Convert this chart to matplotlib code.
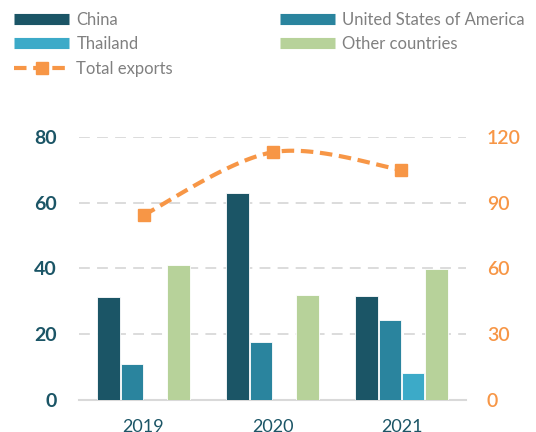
import numpy as np
import matplotlib
matplotlib.use('Agg')
import matplotlib.pyplot as plt
from matplotlib.lines import Line2D

plt.rcParams['font.family'] = ['Lato', 'DejaVu Sans']

years = ['2019', '2020', '2021']
china = [31.2, 62.9, 31.6]
usa = [10.8, 17.5, 24.3]
thailand = [0, 0, 8.3]
others = [41.1, 31.9, 39.7]
total_exports = [84.3, 112.9, 104.9]

series_names = ['China', 'United States of America', 'Thailand', 'Other countries']
series_colors = ['#1b5566', '#2a849e', '#3caac8', '#b7d29a']
orange = '#f79646'
teal_text = '#1b5566'
grey_text = '#808080'
grid_grey = '#d9d9d9'


def smooth_curve(xs, ys, steps=40):
    # bezier smoothing between points, like office "smoothed line"
    pts = np.column_stack([xs, ys]).astype(float)
    out = []
    n = len(pts)
    for i in range(n - 1):
        p0 = pts[i - 1] if i > 0 else pts[i]
        p1 = pts[i]
        p2 = pts[i + 1]
        p3 = pts[i + 2] if i + 2 < n else pts[i + 1]
        c1 = p1 + (p2 - p0) / 6
        c2 = p2 - (p3 - p1) / 6
        t = np.linspace(0, 1, steps)[:, None]
        seg = ((1 - t) ** 3) * p1 + 3 * ((1 - t) ** 2) * t * c1 + 3 * (1 - t) * t ** 2 * c2 + t ** 3 * p2
        out.append(seg if i == 0 else seg[1:])
    out = np.vstack(out)
    return out[:, 0], out[:, 1]


fig = plt.figure(figsize=(5.36, 4.32), dpi=100)
ax = fig.add_axes([79 / 536, 1 - 400 / 432, 387 / 536, (400 - 136.7) / 432])
ax2 = ax.twinx()

x = np.arange(len(years))
pitch = 0.181
width = 0.172
bars = []
for k, (vals, color) in enumerate(zip([china, usa, thailand, others], series_colors)):
    offs = (k - 1.5) * pitch
    b = ax.bar(x + offs, vals, width, color=color, edgecolor='white', linewidth=0.6, zorder=3)
    bars.append(b)

ax.set_xlim(-0.5, 2.5)
ax.set_ylim(0, 80)
ax.set_yticks([0, 20, 40, 60, 80])
ax.set_xticks(x)
ax.set_xticklabels(years)
ax.yaxis.grid(True, color=grid_grey, linestyle=(0, (6, 4)), linewidth=1.3, zorder=0)
ax.set_axisbelow(True)
for s in ['top', 'right', 'left']:
    ax.spines[s].set_visible(False)
ax.spines['bottom'].set_color(grid_grey)
ax.spines['bottom'].set_linewidth(1.5)
ax.tick_params(axis='y', length=0, pad=16, labelsize=14, labelcolor=teal_text)
ax.tick_params(axis='x', length=0, pad=13.5, labelsize=13, labelcolor=teal_text)
for lbl in ax.get_yticklabels():
    lbl.set_fontweight('bold')

ax2.set_ylim(0, 120)
ax2.set_yticks([0, 30, 60, 90, 120])
for s in ax2.spines.values():
    s.set_visible(False)
ax2.tick_params(axis='y', length=0, pad=15, labelsize=14, labelcolor=orange)
for lbl in ax2.get_yticklabels():
    lbl.set_fontweight('semibold')

sx, sy = smooth_curve(x, total_exports)
ax2.plot(sx, sy, color=orange, linewidth=3, linestyle=(0, (3, 1.6)), zorder=4)
ax2.plot(x, total_exports, linestyle='none', marker='s', markersize=9,
         color=orange, zorder=5)

# legend laid out in two columns
handles = [
    Line2D([], [], color=series_colors[0], linewidth=8, solid_capstyle='butt'),
    Line2D([], [], color=series_colors[2], linewidth=8, solid_capstyle='butt'),
    Line2D([], [], color=orange, linewidth=3, linestyle=(0, (3, 1.6)), marker='s', markersize=8),
    Line2D([], [], color=series_colors[1], linewidth=8, solid_capstyle='butt'),
    Line2D([], [], color=series_colors[3], linewidth=8, solid_capstyle='butt'),
]
labels = ['China', 'Thailand', 'Total exports', 'United States of America', 'Other countries']
leg = fig.legend(handles, labels, loc='upper left', bbox_to_anchor=(14 / 536, 1 - 12 / 432),
                 ncol=2, frameon=False, fontsize=12, handlelength=3.3, handletextpad=0.45,
                 columnspacing=6.4, labelspacing=0.5, borderaxespad=0, borderpad=0)
for t in leg.get_texts():
    t.set_color(grey_text)

fig.savefig('out.png', dpi=100)
